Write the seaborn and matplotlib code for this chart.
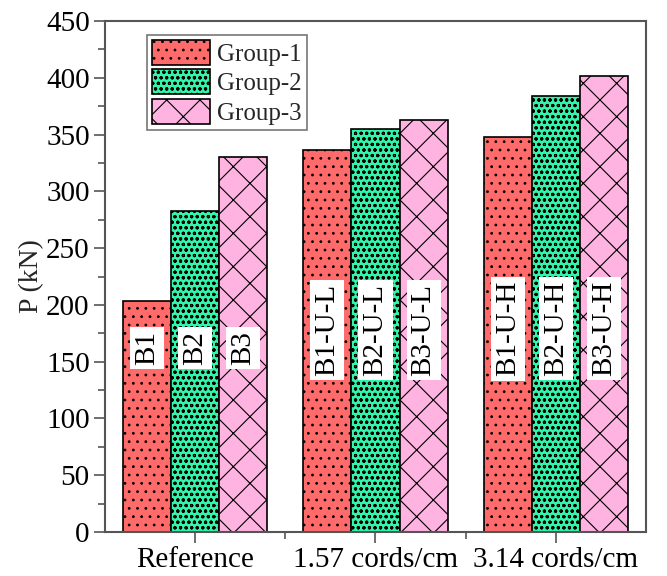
import matplotlib
matplotlib.use("Agg")
import matplotlib.pyplot as plt
import seaborn as sns
import pandas as pd
from matplotlib.ticker import MultipleLocator, FixedLocator

categories = ["Reference", "1.57 cords/cm", "3.14 cords/cm"]
groups = ["Group-1", "Group-2", "Group-3"]
group1 = [203, 336, 348]
group2 = [283, 355, 384]
group3 = [330, 363, 402]
bar_labels = [["B1", "B1-U-L", "B1-U-H"],
              ["B2", "B2-U-L", "B2-U-H"],
              ["B3", "B3-U-L", "B3-U-H"]]
label_y = [162, 178, 179]

sns.set_theme(style="ticks")
plt.rcParams['font.family'] = ['Liberation Serif', 'DejaVu Serif']
plt.rcParams['hatch.linewidth'] = 0.8
plt.rcParams['hatch.color'] = 'black'

df = pd.DataFrame({
    "cat": categories * 3,
    "grp": [g for g in groups for _ in categories],
    "P": group1 + group2 + group3,
})

colors = ["#FF6B6B", "#33F5AA", "#FFB3E0"]
hatches = ["..", "ooo", "x"]

fig = plt.figure(figsize=(6.67, 5.76), dpi=100)
ax = fig.add_axes([105/667, 1 - 532/576, (646-105)/667, (532-21)/576])
sns.barplot(data=df, x="cat", y="P", hue="grp", palette=colors, ax=ax,
            width=0.8, edgecolor="black", linewidth=1.2, saturation=1, legend=False)

for gi, cont in enumerate(ax.containers):
    for j, p in enumerate(cont.patches):
        p.set_hatch(hatches[gi])
        cx = p.get_x() + p.get_width() / 2
        ax.text(cx, label_y[j], bar_labels[gi][j], rotation=90, ha="center", va="center",
                fontsize=21, color="black",
                bbox=dict(facecolor="white", edgecolor="none", pad=3))

ax.set_ylim(0, 450)
ax.set_xlim(-0.5, 2.5)
ax.yaxis.set_major_locator(MultipleLocator(50))
ax.yaxis.set_minor_locator(MultipleLocator(25))
ax.xaxis.set_minor_locator(FixedLocator([0.5, 1.5]))
ax.tick_params(axis="both", which="major", direction="out", length=8, width=1.2,
               labelsize=21, color="#555555", labelcolor="black", pad=3)
ax.tick_params(axis="both", which="minor", direction="out", length=5, width=1.2, color="#555555")
for s in ax.spines.values():
    s.set_color("#555555")
    s.set_linewidth(1.5)
    s.set_visible(True)
ax.set_xlabel("")
ax.set_ylabel("P (kN)", fontsize=20, labelpad=1)

handles = [c.patches[0] for c in ax.containers]
leg = ax.legend(handles, groups, loc="upper left",
                bbox_to_anchor=((147-105)/541, (532-35)/511),
                fontsize=18, frameon=True, fancybox=False, edgecolor="#555555",
                handlelength=2.3, handleheight=1.16, handletextpad=0.3,
                labelspacing=0.14, borderpad=0.2, borderaxespad=0)
leg.get_frame().set_linewidth(1.2)

fig.savefig("out.png", dpi=100)
